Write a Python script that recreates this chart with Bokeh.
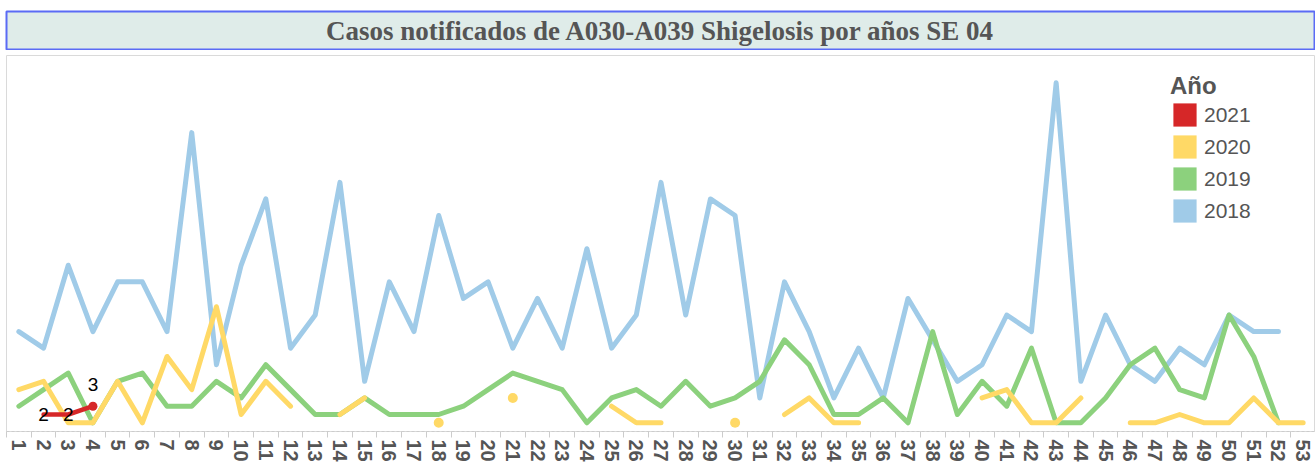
import math
from bokeh.plotting import figure
from bokeh.layouts import column
from bokeh.models import Range1d, FixedTicker, Legend, LegendItem, ColumnDataSource
from bokeh.core.properties import value
from bokeh.embed import file_html
from bokeh.resources import INLINE

# ---------------- data ----------------
title_text = "Casos notificados de A030-A039 Shigelosis por años SE 04"
legend_title = "Año"
weeks = list(range(1, 54))
week_labels = [str(w) for w in weeks]
years = ["2021", "2020", "2019", "2018"]

cases_2018 = [12, 10, 20, 12, 18, 18, 12, 36, 8, 20,
              28, 10, 14, 30, 6, 18, 12, 26, 16, 18,
              10, 16, 10, 22, 10, 14, 30, 14, 28, 26,
              4, 18, 12, 4, 10, 4, 16, 11, 6, 8,
              14, 12, 42, 6, 14, 8, 6, 10, 8, 14,
              12, 12, None]
cases_2019 = [3, 5, 7, 1, 6, 7, 3, 3, 6, 4,
              8, 5, 2, 2, 4, 2, 2, 2, 3, 5,
              7, 6, 5, 1, 4, 5, 3, 6, 3, 4,
              6, 11, 8, 2, 2, 4, 1, 12, 2, 6,
              3, 10, 1, 1, 4, 8, 10, 5, 4, 14,
              9, 1, None]
cases_2020 = [5, 6, 1, 1, 6, 1, 9, 5, 15, 2,
              6, 3, None, 2, 4, None, None, 1, None, None,
              4, None, None, None, 3, 1, 1, None, None, 1,
              None, 2, 4, 1, 1, None, None, None, None, 4,
              5, 1, 1, 4, None, 1, 1, 2, 1, 1,
              4, 1, 1]
weeks_2021 = [2, 3, 4]
cases_2021 = [2, 2, 3]

colors = {"2021": "#d62728", "2020": "#ffd966", "2019": "#8cd17d", "2018": "#a0cbe8"}

FONT = "Liberation Sans"
GREY_TXT = "#555555"


def nanify(vals):
    return [float("nan") if v is None else v for v in vals]


# ---------------- title band ----------------
tf = figure(frame_width=1308, frame_height=39, x_range=Range1d(0, 1), y_range=Range1d(0, 1),
            toolbar_location=None, output_backend="svg",
            x_axis_location=None, y_axis_location=None,
            min_border_top=11, min_border_bottom=0, min_border_left=5, min_border_right=2,
            background_fill_color="#dfece9", outline_line_color="#5b6bf5",
            outline_line_width=2, border_fill_color="white")
tf.grid.grid_line_color = None
tf.text(x=[0.5], y=[0.5], text=[title_text], text_align="center", text_baseline="middle",
        text_font=value("Liberation Serif"), text_font_style="bold",
        text_font_size="27px", text_color=GREY_TXT)

# ---------------- main chart ----------------
p = figure(frame_width=1309, frame_height=376,
           x_range=Range1d(0.5, 53.5), y_range=Range1d(-0.05, 45.3),
           toolbar_location=None, output_backend="svg", y_axis_location=None,
           min_border_top=0, min_border_bottom=0, min_border_left=6, min_border_right=0,
           outline_line_color="#dadada", background_fill_color="white",
           border_fill_color="white")
p.grid.grid_line_color = None

ax = p.xaxis[0]
ax.ticker = FixedTicker(ticks=weeks, minor_ticks=[w - 0.5 for w in weeks] + [weeks[-1] + 0.5])
ax.major_label_overrides = {w: lbl for w, lbl in zip(weeks, week_labels)}
ax.major_label_orientation = "vertical"
ax.major_label_text_font = FONT
ax.major_label_text_font_style = "bold"
ax.major_label_text_font_size = "20px"
ax.major_label_text_color = GREY_TXT
ax.major_label_standoff = 2
ax.major_tick_line_color = None
ax.major_tick_out = 6
ax.major_tick_in = 0
ax.minor_tick_line_color = "#cccccc"
ax.minor_tick_out = 6
ax.minor_tick_in = 0
ax.axis_line_color = "#cccccc"
ax.axis_line_dash = "3 2"

lw = 5
p.line(weeks, nanify(cases_2018), line_width=lw, color=colors["2018"],
       line_join="round", line_cap="round")
p.line(weeks, nanify(cases_2019), line_width=lw, color=colors["2019"],
       line_join="round", line_cap="round")
p.line(weeks, nanify(cases_2020), line_width=lw, color=colors["2020"],
       line_join="round", line_cap="round")

# isolated 2020 points (no neighbours) shown as dots
iso_x, iso_y = [], []
for i, v in enumerate(cases_2020):
    if v is None:
        continue
    prev_v = cases_2020[i - 1] if i > 0 else None
    next_v = cases_2020[i + 1] if i < len(cases_2020) - 1 else None
    if prev_v is None and next_v is None:
        iso_x.append(weeks[i])
        iso_y.append(v)
p.scatter(iso_x, iso_y, size=10, color=colors["2020"], line_color=None)

# 2021
p.line(weeks_2021, cases_2021, line_width=4.5, color=colors["2021"],
       line_join="round", line_cap="round")
p.scatter([weeks_2021[-1]], [cases_2021[-1]], size=9, color=colors["2021"], line_color=None)
lab_src = ColumnDataSource(dict(
    x=weeks_2021, y=cases_2021, t=[str(v) for v in cases_2021],
    off=[0 if i < len(cases_2021) - 1 else -22 for i in range(len(cases_2021))]))
p.text(x="x", y="y", text="t", y_offset="off", source=lab_src, text_align="center",
       text_baseline="middle", text_font=value(FONT), text_font_size="19px",
       text_color="black")

# legend with square swatches (zero-area quads at a real data point, only for the legend)
series_by_year = {"2021": (weeks_2021, cases_2021), "2020": (weeks, cases_2020),
                  "2019": (weeks, cases_2019), "2018": (weeks, cases_2018)}
items = []
for yr in years:
    xs, ys = series_by_year[yr]
    x0, y0 = xs[0], ys[0]
    r = p.quad(left=[x0], right=[x0], top=[y0], bottom=[y0],
               fill_color=colors[yr], line_color=None)
    items.append(LegendItem(label=yr, renderers=[r]))
legend = Legend(items=items, location=(1164, 206), title=legend_title,
                title_text_font=FONT, title_text_font_style="bold",
                title_text_font_size="24px", title_text_color=GREY_TXT, title_standoff=0,
                label_text_font=FONT, label_text_font_size="21px",
                label_text_color=GREY_TXT, glyph_width=29, glyph_height=29,
                spacing=3, padding=0, margin=0, label_standoff=5,
                border_line_color=None, background_fill_alpha=0)
p.add_layout(legend)

layout = column(tf, p, spacing=5)
open("out.html", "w").write(file_html(layout, INLINE))
